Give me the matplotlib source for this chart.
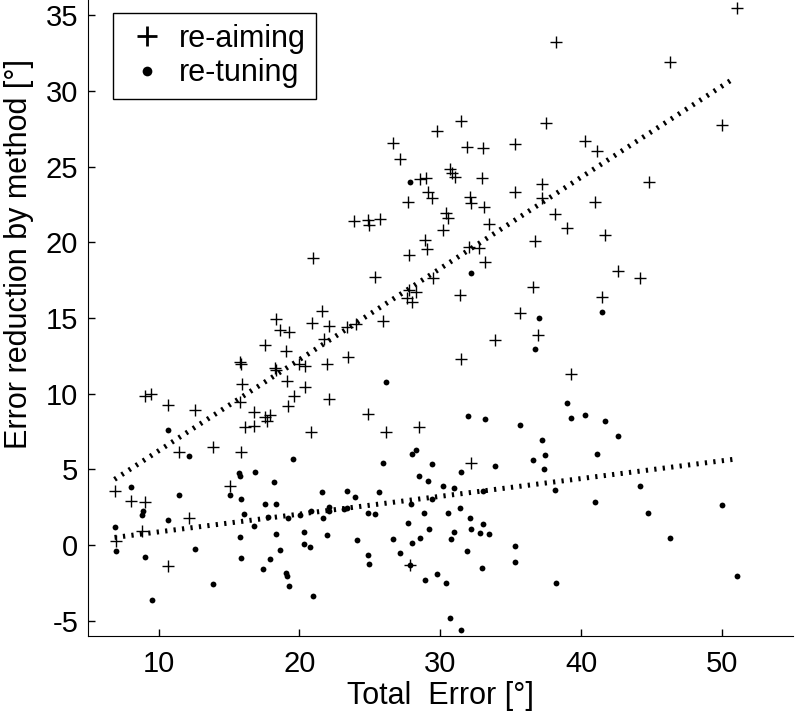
import numpy as np
import matplotlib
matplotlib.use("Agg")
import matplotlib.pyplot as plt

plt.rcParams["font.family"] = ["Liberation Sans", "DejaVu Sans"]
plt.rcParams["axes.unicode_minus"] = False

# re-aiming (crosses): total error, error reduction
aim_x = [38.21, 31.43, 37.46, 29.78, 26.60, 27.11, 31.85, 33.05, 35.31, 40.26,
         41.08, 28.53, 28.95, 30.65, 30.83, 31.02, 32.96, 29.14, 29.38, 35.31,
         37.19, 37.20, 27.70, 32.13, 32.20, 33.07, 38.14, 39.01, 40.97, 23.89,
         24.83, 24.90, 25.70, 30.37, 30.53, 30.18, 33.43, 41.67, 51.05, 46.27,
         49.99, 44.78,
         28.88, 29.07, 27.77, 32.01, 32.77, 33.19, 36.73, 29.49, 25.37, 27.77,
         28.25, 27.65, 28.00, 31.38, 36.54, 35.67, 36.91, 33.90, 41.43, 25.96,
         31.43, 39.25, 24.83, 28.48, 26.17, 42.57, 44.19, 23.34, 24.00, 23.41,
         20.94, 21.58, 20.87, 22.07, 18.30, 18.59, 19.24, 17.57, 19.06, 21.72,
         15.76, 15.83, 18.23, 18.35, 20.00, 20.40, 21.93, 19.10, 20.40, 19.58,
         15.92, 9.05, 9.45, 10.65, 12.58, 15.76, 19.17, 22.12, 16.75, 17.53,
         17.93, 17.72, 16.11, 16.77, 20.83,
         11.45, 13.87, 15.83, 6.88, 8.06, 9.05, 12.16, 8.81, 7.00, 10.70,
         15.05, 32.20, 27.82]
aim_y = [33.24, 27.98, 27.91, 27.36, 26.55, 25.49, 26.28, 26.22, 26.50, 26.66,
         26.04, 24.19, 24.27, 24.83, 24.56, 24.30, 24.27, 23.34, 22.95, 23.30,
         23.85, 22.90, 22.64, 23.01, 22.58, 22.31, 21.87, 20.96, 22.64, 21.40,
         21.47, 21.13, 21.54, 21.95, 21.58, 20.81, 21.19, 20.50, 35.49, 31.91,
         27.76, 24.01,
         20.15, 19.53, 19.15, 19.70, 19.60, 18.67, 20.08, 17.61, 17.72, 16.83,
         16.72, 16.29, 16.06, 16.50, 17.05, 15.33, 13.85, 13.52, 16.39, 14.80,
         12.27, 11.27, 8.67, 7.78, 7.45, 18.11, 17.67, 14.40, 14.63, 12.42,
         18.97, 15.44, 14.69, 14.47, 14.96, 14.23, 14.07, 13.24, 12.81, 13.64,
         12.09, 11.98, 11.69, 11.58, 11.98, 11.80, 11.98, 10.83, 10.43, 9.88,
         10.61, 9.83, 9.99, 9.28, 8.95, 9.44, 9.17, 9.62, 8.82, 8.44,
         8.62, 8.18, 7.78, 7.89, 7.50,
         6.17, 6.46, 6.15, 3.59, 2.93, 2.88, 1.78, 0.94, 0.28, -1.38,
         3.92, 5.40, -1.31]

# re-tuning (dots)
tune_x = [27.87, 32.20, 36.96, 36.68, 41.48, 26.17, 31.97, 33.15, 35.67, 39.01,
          39.25, 40.26, 41.67, 10.68, 12.16, 19.55, 15.71, 15.75, 16.87, 25.96,
          27.96, 28.25, 29.42, 28.48, 29.15, 8.06, 8.93, 8.81, 11.45, 10.65,
          6.88, 6.98, 9.05, 12.58, 9.52, 13.87, 15.05, 18.16, 15.88, 17.57,
          18.30, 16.06, 17.76, 19.17, 20.05, 20.83, 21.58, 22.07, 22.12, 21.70,
          16.75, 18.30, 15.81, 20.35, 21.93, 20.35, 20.78, 18.59, 15.83, 17.88,
          17.43, 19.06, 19.10, 19.24, 20.94,
          37.19, 37.43, 37.35, 36.54, 33.85, 31.45, 30.18, 30.98, 23.34, 23.96,
          25.65, 23.18, 23.40, 24.88, 25.37, 27.89, 29.38, 33.00, 38.14, 40.97,
          41.08, 28.86, 30.53, 31.38, 27.70, 29.19, 28.53, 27.96, 26.60, 24.08,
          30.98, 30.72, 32.13, 33.03, 32.20, 32.79, 33.43, 31.87, 35.31, 35.31,
          32.96, 27.11, 24.83, 24.90, 27.82, 28.93, 29.78, 30.41, 38.19, 30.67,
          31.45,
          42.57, 44.19, 44.73, 46.27, 49.99, 51.05]
tune_y = [23.97, 17.98, 15.00, 12.97, 15.40, 10.76, 8.54, 8.34, 7.96, 9.40,
          8.40, 8.60, 8.18, 7.61, 5.91, 5.69, 4.74, 4.58, 4.80, 5.40,
          6.02, 6.30, 5.36, 4.54, 4.25, 3.81, 2.27, 1.98, 3.32, 1.65,
          1.21, -0.38, -0.76, -0.27, -3.63, -2.59, 3.32, 4.14, 3.08, 2.71,
          2.71, 2.05, 1.89, 1.78, 1.98, 2.27, 3.52, 2.53, 2.27, 1.82,
          1.27, 0.76, 0.54, 0.88, 0.66, 0.06, -0.12, -0.34, -0.87, -0.93,
          -1.56, -1.82, -2.04, -2.72, -3.36,
          6.97, 5.95, 5.03, 5.62, 5.24, 4.85, 3.92, 3.77, 3.59, 3.19,
          3.48, 2.42, 2.46, 2.15, 2.09, 2.71, 3.04, 3.55, 3.64, 2.88,
          6.02, 2.11, 2.13, 2.44, 1.49, 1.05, 0.50, 0.17, 0.43, 0.34,
          0.89, 0.41, 1.78, 1.40, 1.05, 0.83, 0.72, -0.40, -0.05, -1.09,
          -1.51, -0.50, -0.65, -1.26, -1.31, -2.32, -1.93, -2.48, -2.50, -4.84,
          -5.62,
          7.23, 3.92, 2.11, 0.50, 2.64, -2.06]

x_ticks = [10, 20, 30, 40, 50]
y_ticks = [-5, 0, 5, 10, 15, 20, 25, 30, 35]

fig = plt.figure(figsize=(7.96, 7.16), dpi=100)
ax = fig.add_axes([0.1106, 0.1117, 0.8854, 0.8883])

ax.plot(aim_x, aim_y, "+", color="black", ms=8.5, mew=1.0, label="re-aiming")
ax.plot(tune_x, tune_y, "o", color="black", ms=4.2, mew=0, label="re-tuning")

# least-squares lines over the range of the data
all_x = np.array(aim_x + tune_x)
xs = np.array([all_x.min(), all_x.max() - 0.3])
for xx, yy in [(aim_x, aim_y), (tune_x, tune_y)]:
    k, b = np.polyfit(xx, yy, 1)
    ax.plot(xs, k * xs + b, color="black", lw=3.6,
            linestyle=(0, (0.45, 1.25)), dash_capstyle="butt")

ax.set_xlim(5, 55)
ax.set_ylim(-6, 36)
ax.set_xticks(x_ticks)
ax.set_yticks(y_ticks)
for sp in ["top", "right"]:
    ax.spines[sp].set_visible(False)
ax.tick_params(direction="in", length=5, width=1, labelsize=21, pad=7)
ax.tick_params(axis="x", pad=10)
ax.set_xlabel("Total  Error [\u00b0]", fontsize=22, labelpad=2)
ax.set_ylabel("Error reduction by method [\u00b0]", fontsize=22)
# original figure was cropped at the top, so the label sits above centre
ax.yaxis.set_label_coords(-0.076, 0.6)

leg = ax.legend(loc="upper left", bbox_to_anchor=(0.0355, 0.9796),
                borderaxespad=0, fontsize=22, frameon=True, fancybox=False,
                handletextpad=0.3, borderpad=0.35, labelspacing=0.15,
                handlelength=1.5, framealpha=1)
leg.get_frame().set_edgecolor("black")
leg.get_frame().set_linewidth(1.0)
leg.legend_handles[0].set_markersize(14)
leg.legend_handles[0].set_markeredgewidth(2.0)
leg.legend_handles[1].set_markersize(7)

plt.savefig("out.png", dpi=100)
plt.close()
